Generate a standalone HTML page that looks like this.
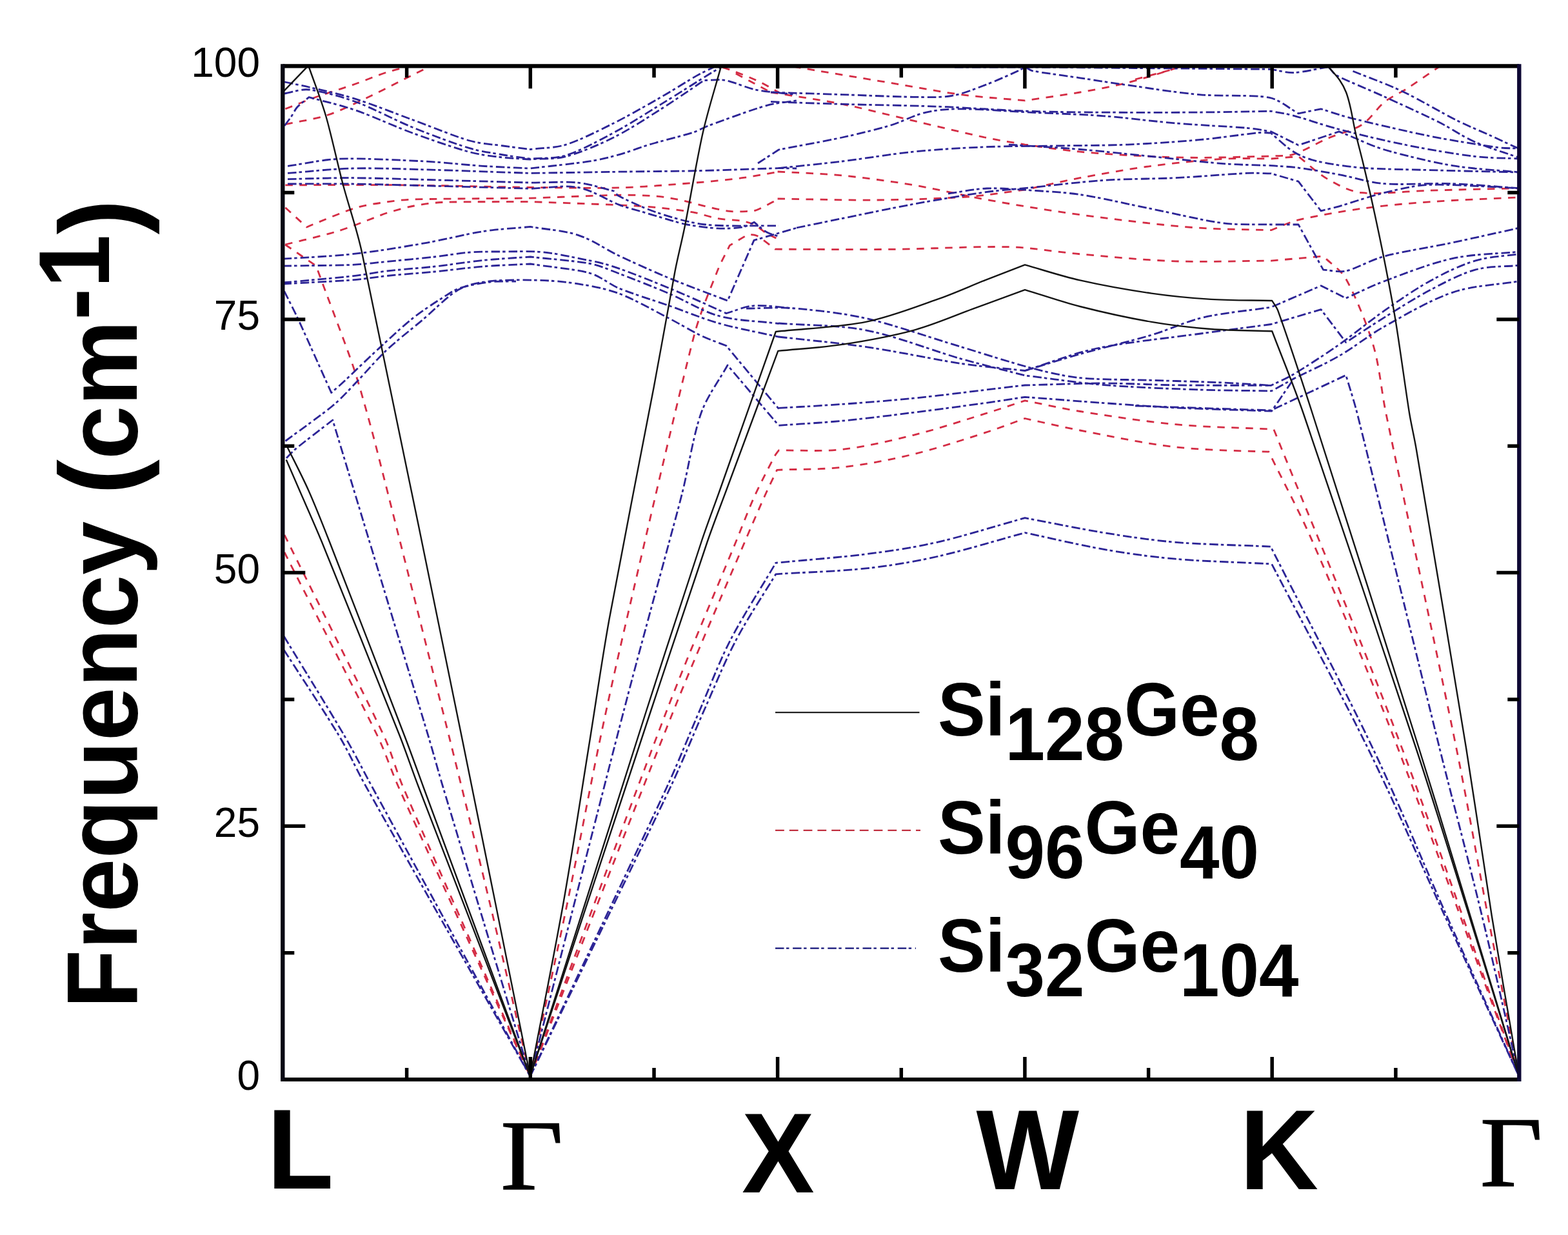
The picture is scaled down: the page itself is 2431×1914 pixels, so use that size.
<!DOCTYPE html>
<html><head><meta charset="utf-8">
<style>
html,body{margin:0;padding:0;background:#fff;}
body{width:2431px;height:1914px;overflow:hidden;}
svg{display:block;}
.sans{font-family:"Liberation Sans",Arial,sans-serif;}
.serif{font-family:"Liberation Serif","Times New Roman",serif;}
</style></head>
<body>
<svg width="2431" height="1914" viewBox="0 0 2431 1914">
<rect x="0" y="0" width="2431" height="1914" fill="#fff"/>
<clipPath id="pc"><rect x="438.3" y="102.3" width="1917.0000000000002" height="1570.7"/></clipPath>
<g id="curves" fill="none" stroke-linejoin="round" clip-path="url(#pc)">
<g stroke="#d42c44" stroke-width="2.8" stroke-dasharray="11.5 10.5">
<path d="M442 379L490 412C495.3 426.3 500.7 440.7 506 455C515.6 480.9 536.9 536.6 547.4 567.4C555.5 591.3 562.7 617.9 569 640C574.6 659.9 579.9 679.9 585 700C606.6 785 669.4 1033.7 698.4 1150C719 1232.6 739.2 1315.2 759 1398C779.6 1484.3 801 1578 822 1668"/>
<path d="M441 829C492.3 932.7 564.3 1074.8 595 1140C607.1 1165.8 613.8 1193.8 625 1220C662.8 1308 756.3 1518.7 822 1668"/>
<path d="M441 856C489 950.7 555.5 1079.3 585 1140C597.6 1165.9 606.2 1193.7 618 1220C657.5 1308 754 1518.7 822 1668"/>
<path d="M822 1668C841.3 1578 862 1484.3 879.9 1398C897 1315.5 914.2 1223 929.5 1150C942.8 1086.5 956.9 1023.2 971.6 960C996 855 1052.6 610.3 1076 520.3C1085 485.9 1103 443.3 1112.2 420C1117.6 406.4 1124.9 393.6 1131.3 380.4L1159.8 363.3C1164.2 363.9 1169 363.6 1173.1 365.2C1177.2 366.8 1180.9 370.1 1184.6 372.8C1189.4 376.3 1196 381.7 1201.7 386.2C1260.9 386.3 1320.2 387 1379.4 386.4C1439.8 385.8 1514.7 381.5 1563.9 382.7C1600.9 383.6 1637.6 390.6 1674.5 393.8C1717.5 397.5 1772.7 403.1 1822 404.8C1871.4 406.5 1921.2 404.3 1970.8 404.1L2051.6 397.1C2063.3 408.8 2078.6 417.8 2086.7 432.2C2099.6 455 2118.5 499.5 2128.8 534.1C2139.1 568.5 2141.4 604.8 2148.7 640C2170.2 744.3 2231.7 1030.2 2258 1160C2275.5 1246 2290.5 1334.1 2306.7 1418.8C2322.6 1501.9 2338.9 1584.9 2355 1668"/>
<path d="M822 1668C892.7 1478.7 981.1 1238 1034.2 1100C1067.9 1012.6 1118.3 895 1140.8 840C1150.4 816.7 1159.4 792.2 1169.4 770C1179.1 748.6 1194.7 719 1201 707C1202.7 703.8 1205.2 701 1207.3 698C1240.1 697.5 1273.1 700.2 1305.7 696.5C1340.5 692.5 1379.8 683.4 1416.3 674.3C1453.2 665.1 1498.2 650.1 1527 641.2C1547.8 634.8 1568.3 627.7 1589 620.9C1617.5 626.4 1645.8 633 1674.5 637.5C1713.3 643.6 1772.8 653.1 1822 657.7C1871 662.3 1920.4 662.6 1969.6 665.1L1974.8 665.3C2038.6 823.5 2105.7 980.5 2166.2 1140C2229.6 1307.1 2292.1 1492 2355 1668"/>
<path d="M822 1668C896.3 1478.7 989.4 1238 1044.8 1100C1079.9 1012.7 1131.2 895 1154.6 840C1164.5 816.6 1176.7 788.6 1185 770C1191.3 756 1198.1 742.2 1204.6 728.3C1238.3 726.9 1272.2 728 1305.7 724.1C1341 720 1379.9 712.7 1416.3 703.9C1453.2 695 1498.2 679.9 1527 670.7C1547.9 664 1568.3 655.9 1589 648.5C1617.5 654.7 1645.9 661.6 1674.5 667C1713.3 674.4 1773.4 687.3 1822 692.8C1869.8 698.2 1941.8 699 1966 700.2C1966.3 700.2 1966.6 700.1 1966.9 700C1989.7 746.7 2014.4 792.4 2035.2 840C2067.3 913.3 2120.8 1039 2159.8 1140C2213.1 1278 2289.9 1492 2355 1668"/>
<path d="M442.4 168.8C458.4 162.6 474.2 156.1 490.3 150.3C507.5 144.2 527.3 138.3 545.7 131.9C564.2 125.5 585 116.6 601 111.6C614.3 107.4 628.1 104.9 641.6 101.6"/>
<path d="M442.4 192.7C464.5 187.8 487.3 185.2 508.8 178C530.9 170.6 554.9 158 575.2 148.5C593.9 139.7 617 127.6 630.5 120.8C639.1 116.5 647.7 112.2 656.3 107.9"/>
<path d="M442.4 286.8C501.4 286.8 560.4 286.2 619.4 286.8C682.7 287.4 754.7 289.3 822.3 290.5C868.2 290.6 918 292.1 959.9 290.9C998 289.8 1042.1 286 1073.9 283.5C1099.5 281.5 1128.3 278.6 1150.6 275.7C1169.6 273.2 1188.5 269.4 1207.4 266.2"/>
<path d="M988.3 100.5C1012.9 101.1 1040.6 101.8 1062.1 102.4C1080.5 102.9 1105.1 103 1117.4 104.2C1123.8 104.8 1129.8 107.6 1135.8 109.8C1145 113.2 1160.8 119 1172.7 124.5C1184.6 130 1195.8 136.8 1207.4 143"/>
<path d="M1205.6 266C1239 268 1272.4 268.7 1305.7 272C1340.8 275.5 1379.6 280.7 1416.3 286.8C1453.2 293 1490.1 302.2 1527 309C1563.8 315.7 1600.7 321.9 1637.6 327.4C1674.4 332.9 1711.4 337.8 1748.3 342.1C1785.1 346.4 1822 350.8 1859 353.2C1896.1 355.6 1933.5 355.5 1970.8 356.7C1984.9 351.4 1998.4 344.4 2013 340.9C2036.4 335.3 2078.3 327.8 2111.3 323.3C2145.2 318.6 2181.5 315.3 2216.7 312.8C2257.4 309.9 2309.2 308.1 2355.4 305.8"/>
<path d="M1205.6 308C1257.1 308.7 1310.9 310.5 1360 310C1406.7 309.5 1461.8 307.6 1500 305C1529.8 302.9 1559.3 297.8 1589 294.2C1617.5 288 1645.8 281.1 1674.5 275.7C1707.2 269.6 1748.3 262.2 1785.2 257.3C1822 252.4 1865.1 248.1 1896 246.2C1920.9 244.7 1945.9 246.1 1970.8 246L2013 242.5C2028.2 254.2 2042.2 268.3 2058.6 277.7C2075 287.1 2092.5 296.6 2111.3 298.7C2137.7 301.6 2181.6 296.2 2216.7 295.2C2257.4 294 2309.2 292.9 2355.4 291.7"/>
<path d="M1195 143C1231.9 149.1 1269 154.1 1305.7 161.4C1342.6 168.8 1379.4 178.6 1416.3 187.2C1453.2 195.8 1498.2 206.8 1527 213C1547.5 217.4 1568.3 220.4 1589 224.1C1617.5 227.8 1645.9 232.5 1674.5 235.2C1707.2 238.3 1753.4 241 1785.2 242.5C1811.9 243.8 1838.7 244.4 1865.4 244.3C1896.3 244.2 1935.7 242.8 1970.8 242C1982.5 241 1994.8 242.5 2006 239C2020.6 234.4 2041 222 2058.6 214.4C2076 206.9 2096.7 202.8 2111.3 193.4C2125.3 184.5 2134.7 167.6 2146.4 158.2C2157 149.7 2170 144.6 2181.5 137.2C2195.6 128.1 2214.3 114.9 2230.7 103.8"/>
<path d="M1140.8 114C1150.3 119.1 1160.3 124.5 1169.3 129.3C1177.9 133.9 1186.4 138.4 1195 143"/>
<path d="M1230 103C1242.9 105.3 1255.9 107.6 1268.8 109.8C1293.7 114 1342.5 122.1 1379.4 128.2C1416.3 134.3 1455.1 142 1490 146.6C1522.9 150.9 1556 152.8 1589 155.9C1617.5 151.6 1648 147.6 1674.5 143C1699.2 138.7 1724 134.3 1748.3 128.2C1772.9 122 1808.4 110.2 1822 106C1824.7 105.2 1827.3 104 1830 103"/>
<path d="M1760 123C1777.6 118.3 1801 112.3 1812.7 109C1818.6 107.3 1824.2 105 1830 103"/>
<path d="M442.4 321.8L475.6 352C479.6 350.3 483.6 348.4 487.7 346.8C500.4 341.8 533.4 327.6 552.1 322C567.7 317.3 585.4 315.2 600 313C613.3 311 626.6 309.4 640 309C677 308 761.5 307.7 822.3 307.1C868.2 305.5 927.4 302.8 959.9 302.3C979 302 1001.2 302.8 1017.1 304.1C1029.9 305.1 1042.5 307.4 1055.1 310C1067.8 312.6 1080.4 316.7 1093.1 319.6C1105.8 322.5 1120.3 326.1 1131.4 327.4C1140.8 328.5 1152.8 327.7 1159.8 327.4C1164.3 327.2 1168.9 327.2 1173.1 325.5C1181 322.3 1196 314 1207.4 308.2"/>
<path d="M442.4 379C469.2 372.2 499.6 365.5 522.8 358.5C542.7 352.5 568.5 341.8 581.4 337C587.6 334.7 593.6 331.9 600 330C610.1 327 627.8 321.7 642 319C656.5 316.2 671.9 314 687 313.5C717 312.4 777.2 312.9 822.3 312.6C868.2 314.3 927.4 316.3 959.9 317.8C979 318.7 998.1 319.7 1017.1 321.5C1036.2 323.4 1058.4 326.1 1074.2 328.9C1087.1 331.2 1099.5 336.2 1112.2 338.5C1124.7 340.7 1140.7 340.9 1150.2 342.5C1156.6 343.6 1163.1 345.1 1169 348C1175.3 351.1 1182.5 357.8 1188.2 361.3C1193.1 364.3 1198.3 366.5 1203.4 369.1"/>
</g>
<g stroke="#2c2496" stroke-width="2.8" stroke-dasharray="13.5 4 4.5 5">
<path d="M444 710C449.1 704.9 453.8 699.4 459.4 694.8C471.4 685 497 665.6 515.8 651C565.1 814 635.3 1045.2 663.8 1140C671.8 1166.6 678.9 1193.4 686.9 1220C713.3 1308 777 1518.7 822 1668"/>
<path d="M440.3 986.3C471.5 1037.5 511 1101 533.8 1140C549.1 1166.2 562.7 1193.4 577.2 1220C625.2 1308 740.4 1518.7 822 1668"/>
<path d="M440.3 1007.4C468.7 1051.6 504.2 1104.6 525.5 1140C541 1165.9 553.2 1193.7 568 1220C617.4 1308 737.3 1518.7 822 1668"/>
<path d="M822 1668C870.5 1478.7 931.6 1238 967.5 1100C990.1 1013.1 1022.3 896.7 1037.5 840C1044.6 813.4 1052.1 786.8 1058.7 760C1066.9 726.8 1075.4 672.8 1086.9 640.5C1096.4 613.8 1114.3 590.8 1128 566L1207.3 659.4C1240.1 657 1273 655.3 1305.7 652.2C1340.5 648.9 1379.5 643.9 1416.3 639.3C1453.2 634.7 1498.2 628.6 1527 624.6C1547.7 621.7 1568.3 618.4 1589 615.3C1629.8 618.4 1672.6 621.8 1711.4 624.6C1748.3 627.2 1785.1 630.1 1822 631.9C1865.3 634 1921.7 635.4 1971.5 637.2L2006 586.8C2029.3 575.1 2053.4 564.7 2076 551.7C2099.4 538.2 2122 519.7 2146.4 506C2175.7 489.6 2217 465 2251.8 453.3C2285 442.1 2320.9 441.6 2355.4 435.7"/>
<path d="M822 1668C892.6 1518.7 989.9 1314.7 1033.8 1220C1052.1 1180.5 1068.7 1138 1085.2 1100C1100.9 1063.8 1114.5 1026.7 1132.6 991.7C1152.2 953.8 1179.4 912.1 1202.8 872.3C1249.4 867.8 1300.8 864.1 1342.5 858.8C1379.6 854.1 1416.7 848.6 1453.2 840.3C1494.3 830.9 1543.7 815.2 1589 802.7C1629.8 810.3 1672.6 819.3 1711.4 825.6C1748.1 831.5 1784.9 837.2 1822 840.3C1865.1 843.9 1920.7 844.8 1970 847.1C2022.8 951.4 2083.1 1064.7 2128.5 1160C2169.1 1245.1 2204.9 1334.1 2242.7 1418.8C2279.8 1502 2317.6 1584.9 2355 1668"/>
<path d="M822 1668C894.5 1518.7 994.4 1314.7 1039.4 1220C1058.1 1180.6 1075 1138 1092 1100C1108.2 1063.8 1122.8 1026.7 1141.3 991.7C1159.8 956.7 1182.3 923.8 1202.8 889.8C1249.4 886.8 1300.8 885.4 1342.5 880.9C1379.7 876.8 1416.7 870.7 1453.2 862.5C1494.3 853.3 1543.7 837.9 1589 825.6C1629.8 834.2 1672.6 844.6 1711.4 851.4C1748 857.8 1784.9 863 1822 866.2C1865.4 870 1921.7 871.4 1971.6 874C2021.4 969.3 2076.2 1069.2 2120.9 1160C2162.8 1245.2 2200.7 1334.1 2239.7 1418.8C2278 1501.9 2316.6 1584.9 2355 1668"/>
<path d="M1207.3 632.4C1240.1 630.4 1272.9 628.8 1305.7 626.4C1340.5 623.9 1379.5 620.9 1416.3 617.2C1453.2 613.5 1498.2 607.7 1527 604.3C1547.7 601.9 1568.3 599.4 1589 597C1629.8 596 1672.6 594 1711.4 594C1748.3 594 1785.1 596.4 1822 596.9C1865.2 597.4 1921.2 597.2 1970.8 597.3C1982.5 591.5 1994.8 586.5 2006 579.8C2023.5 569.3 2053.2 550.1 2076 534.1C2099.4 517.7 2123 497.8 2146.4 481.4C2169.3 465.4 2193.3 448.6 2216.7 435.7C2239.2 423.3 2263.9 411.1 2287 404.1C2309.1 397.4 2332.6 397.1 2355.4 393.6"/>
<path d="M1760 629L1970.8 636L2086.7 581.5C2092.5 601 2099 620.3 2104 640C2128.2 736.4 2199.8 1030.2 2232 1160C2253.5 1246.4 2277 1334.1 2297.5 1418.8C2317.6 1501.7 2335.8 1584.9 2355 1668"/>
<path d="M446.1 257.3C473.1 253.6 499.9 247.2 527.2 246.2C562.2 245 619.4 248.1 656.3 249.9C687.1 251.4 720.8 255.5 748.5 257.3C773.1 258.9 797.7 259.8 822.3 261C853 257.3 891.6 253.5 914.5 249.9C929.8 247.5 945 243.8 959.9 239.6C975.3 235.3 991 228.8 1006.7 224.1C1025.8 218.4 1058.8 210.2 1074.2 205.3C1082.8 202.6 1090.5 197.7 1099 194.6C1118 187.6 1165.5 170 1188.2 163.6C1203.4 159.3 1219.5 158.5 1235.1 155.9"/>
<path d="M446.1 268.4C479.3 265.9 512.4 261.9 545.7 261C580.7 260.1 619.4 261.8 656.3 262.8C702.4 264 767 266.5 822.3 268.4C868.2 267.7 916.9 266.8 959.9 266.2C1000.1 265.6 1040.3 265.6 1080.5 264.7C1121.7 263.8 1164.8 262 1207 260.6L1235.1 261"/>
<path d="M446.1 277.6C479.3 277 512.5 275.5 545.7 275.7C586.9 276 647.1 278.2 693.2 279.4C736.2 280.6 779.3 281.9 822.3 283.1C846.9 283.1 874.6 281 896.1 283.1C914.9 285 933 291.7 951.4 296C954.2 298.7 956.4 302.3 959.9 304.1C970.9 309.6 997.4 322.4 1017.1 328.9C1039.3 336.2 1067.1 345.1 1093.1 348C1124.8 351.5 1169 349.3 1207 349.9"/>
<path d="M446.1 285C479.3 285 512.5 284.5 545.7 285C586.9 285.6 647.1 287.5 693.2 288.7C736.2 289.8 779.3 291.1 822.3 292.3C846.9 291.7 873.2 286.3 896.1 290.5C918.8 294.6 942.9 311 959.9 317.4C972.3 322.1 985.2 325.1 997.9 328.9C1010.6 332.7 1025.1 337.1 1036.3 340.3C1045.8 343 1055.3 346.3 1065 348C1077.7 350.3 1097.9 353.2 1112.2 353.9C1125 354.5 1141.1 353.7 1150.6 352.1C1157.3 351 1163.1 347 1169.4 344.4C1175.8 349.5 1182.3 356.2 1188.6 359.8C1194.2 363 1200.9 364 1207 366.1"/>
<path d="M438.7 401.2C474.4 398.7 510.2 397.7 545.7 393.8C582 389.8 622.5 383.1 656.3 377.2C687.2 371.9 720.8 363 748.5 358.7C772.9 354.9 797.7 353.8 822.3 351.4C846.9 355.7 873.2 356.8 896.1 364.3C918.7 371.7 938.4 386.2 959.9 396.4C983.5 407.5 1011.3 420.2 1037.4 431C1065.4 442.6 1097.9 454.4 1128.1 466.1L1169 372.4L1235.1 353.2"/>
<path d="M441 127C453.7 129.7 466.4 132 479 135C497.5 139.4 528.1 146 552 153.6C578.8 162.1 610.7 175.1 640 185.8C669.3 196.5 704.7 211.3 728 218C744.9 222.8 764.3 223.8 780 226C794.1 228 808.2 229.7 822.3 231.5C840.7 229 859.9 229.7 877.6 224.1C899.1 217.3 927.3 203 951.4 190.9C976 178.6 1003.7 162.6 1025.2 150.3C1043.9 139.6 1067 124.8 1080.5 117.1C1088.9 112.3 1097.7 108.5 1106.3 104.2"/>
<path d="M441 145C453.7 143 466.3 137.5 479 139C497.5 141.2 528.4 149.4 552 158C578.8 167.8 610.7 185.6 640 197.5C668.9 209.3 704.7 222.6 728 229.7C744.9 234.8 764.3 237.2 780 240C794 242.5 808.2 244.1 822.3 246.2C840.7 244.4 859.9 246.2 877.6 240.7C899.1 233.9 927.4 218.6 951.4 205.7C976 192.5 1000.7 176.4 1025.2 161.4C1049.8 146.3 1083.6 124.8 1099 115.3C1105.1 111.5 1111.3 107.9 1117.4 104.2"/>
<path d="M441 195C444.7 190 448.8 184.7 452 180C454.9 175.8 457 170.7 460 167C462.8 163.5 466.8 160.7 470 158C472.9 155.5 476 153.1 479 150.6C503.3 157.4 528.1 162.8 552 171.1C578.8 180.4 610.7 195.6 640 206.3C669 216.9 704.7 229.3 728 235.6C745 240.2 764.3 242.1 780 244C794 245.7 808.2 246 822.3 247C840.7 245.5 859.7 247.2 877.6 242.5C899.1 236.8 927.7 224.8 951.4 213C976 200.7 1001.8 183.6 1025.2 168.8C1047.7 154.6 1069.5 139.3 1091.6 124.5C1102.7 124.5 1113.9 122.5 1124.8 124.5C1138.3 127 1156.3 136 1172.7 139.3C1191.1 143 1214.2 144.2 1235 146.6"/>
<path d="M442.5 683.5C466.9 665.3 497.3 644.1 515.6 629C528.8 618.1 540.2 605.1 552.1 592.8C566 578.5 582.4 558.6 599 543C616.1 526.9 636.1 511.8 654.6 496.2C673.1 480.6 693.2 459.3 710.3 449.3C724.3 441.1 741 438 757.1 436.1C777.9 433.6 811.8 433.7 835 434.3C855.4 434.9 875.9 436.6 896.1 439.9C916.9 443.3 939.5 447.2 960 455C983.5 463.9 1016.1 482.5 1037.3 493.4C1054.1 502 1072.3 513.2 1087.1 520.3C1099.7 526.3 1113 530.6 1125.9 535.8L1207.4 633.6"/>
<path d="M440.6 451.2C447.5 464.9 454.7 478.5 461.2 492.4C473.4 518.6 496.2 569.9 513.7 608.6C519.7 603.3 525.8 598.2 531.6 592.8C543.9 581.4 569.2 556.7 587.3 540.1C604.6 524.2 623.4 506.4 640 493.2C654.8 481.4 674.6 468.8 686.8 461C695.3 455.6 703.6 449.5 713.2 446.4C725.4 442.4 745.5 438.7 760 437C773.2 435.4 786.7 436.3 800 436"/>
<path d="M1480 104L1589 104C1646 104.5 1703 105 1760 105.5C1823.6 106 1900.5 106.7 1970.8 107.3C1982.5 109.1 1994.1 113.1 2006 112.6C2020.6 112 2041.1 106.7 2058.6 103.8"/>
<path d="M1195 143C1231.9 144.2 1268.8 145.4 1305.7 146.6C1342.6 147.8 1388 150 1416.3 150.3C1436 150.5 1456.8 151.6 1475.3 148.5C1493.2 145.5 1510.1 138.2 1527 131.9C1544.2 125.5 1568.1 114.6 1578.6 109.8C1582.6 108 1586.2 105.3 1590 103"/>
<path d="M1590 104C1593.6 105.9 1596.7 109 1600.7 109.8C1614.8 112.6 1649.9 117.1 1674.5 120.8C1699.1 124.5 1723.7 128.5 1748.3 131.9C1779 136.2 1822.5 143.4 1859 146.6C1895 149.8 1941.6 146.3 1967.3 151.2C1984.3 154.4 1997.8 167.6 2013 175.8L2048 168.8C2063.2 173.5 2078.2 178.9 2093.7 182.8C2121.8 189.8 2178.6 203.3 2216.7 210.9C2251.6 217.9 2298.9 225.3 2322 228.5C2333 230 2344.3 229.6 2355.4 230.2"/>
<path d="M1195 157.7C1231.9 158.9 1268.8 160.3 1305.7 161.4C1348.7 162.6 1404.1 163.3 1453.2 165.1C1502.4 166.9 1551.5 171 1600.7 172.5C1649.9 174 1704.2 174.1 1748.3 174.3C1787.3 174.5 1828.3 174.3 1865.4 174C1900.5 173.7 1935.7 172.9 1970.8 172.3C1982.5 174.6 1994.4 176.2 2006 179.3C2023.5 184 2052.4 194.3 2076 200.4C2105.2 208 2146.3 218 2181.5 225C2216.5 232 2258 239 2287 242.5C2309.7 245.2 2332.6 244.8 2355.4 246"/>
<path d="M1175 253L1207.4 232C1240.2 225.7 1277 219.2 1305.7 213C1330.4 207.6 1357.9 201 1379.4 194.6C1398.2 189 1416.4 178.6 1434.8 174.3C1452.8 170.1 1471.5 168.8 1490 168.8C1517.7 168.8 1563.8 172.5 1600.7 174.3C1637.6 176.1 1674.6 177 1711.4 179.8C1748.3 182.6 1785.1 187.8 1822 190.9C1858.9 194 1907.9 196.1 1932.7 198.3C1945.5 199.4 1958.1 202 1970.8 203.9L2013 225L2076 203.9C2081.9 206.3 2087.8 208.6 2093.7 211C2105.4 215.7 2128.2 226.8 2146.4 232C2172.8 239.6 2217 250.8 2251.8 256.6C2286 262.3 2320.9 263.5 2355.4 267"/>
<path d="M1207 260.6C1239.9 257.1 1272.9 254 1305.7 250C1340.6 245.8 1379.4 238.9 1416.3 235.2C1453.1 231.5 1490.1 229.3 1527 227.8C1563.8 226.3 1600.7 226.6 1637.6 226C1674.5 225.4 1711.4 225.6 1748.3 224.1C1785.2 222.5 1825.2 219.8 1859 216.7C1889.8 213.9 1932.7 207.5 1951.2 205.7C1957.4 205.1 1963.7 205.9 1970 206C1982 215.8 1994.2 228.2 2006 235.5C2016.7 242.1 2028.8 246.7 2041 249.6C2058.6 253.7 2087.7 258.2 2111.3 260.1C2140.6 262.4 2181.6 262.6 2216.7 263.6C2257.4 264.8 2309.2 265.9 2355.4 267"/>
<path d="M1563.9 224.1C1600.8 226.6 1637.7 228.4 1674.5 231.5C1711.4 234.6 1748.3 238.8 1785.2 242.5C1822.1 246.2 1865.1 251.2 1896 253.6C1920.9 255.5 1945.9 255.6 1970.8 256.6C1984.9 257.8 1999 258.2 2013 260.1C2030.5 262.4 2055.1 266.7 2076 270.6C2098.2 274.7 2122.5 282.8 2146.4 284.7C2175.7 287 2217 283.5 2251.8 284.7C2286.4 285.9 2320.9 289.4 2355.4 291.7"/>
<path d="M1470 300C1490 297.3 1510.2 293 1530 292C1549.7 291 1569.3 293.5 1589 294.2C1617.5 296.7 1646.2 297.3 1674.5 301.6C1707.2 306.5 1748.3 316.3 1785.2 323.7C1822.1 331.1 1865.1 341.8 1896 345.8C1920.7 349 1945.9 347.3 1970.8 348L2013 348L2051.6 418.2C2063.3 418.8 2075.3 422.5 2086.7 420C2102.5 416.5 2125.8 402.6 2146.4 397.1C2173.9 389.8 2217 383.3 2251.8 376C2286.4 368.7 2320.9 360.8 2355.4 353.2"/>
<path d="M1235 353C1258.6 348.2 1282.1 343.3 1305.7 338.5C1335.9 332.4 1379.4 323.1 1416.3 316.3C1453.1 309.6 1496.3 302.2 1527 297.9C1551.5 294.5 1576.1 293 1600.7 290.5C1631.4 287.4 1674.5 281.9 1711.4 279.4C1748.2 276.9 1785.2 277.5 1822 275.7C1858.9 273.9 1907.9 269.5 1932.7 268.4C1945.4 267.8 1958.1 268.7 1970.8 268.9L2013 281.2L2048 326.8C2057.3 324.5 2066.7 322.4 2076 319.8C2092.4 315.1 2123 304.3 2146.4 298.7C2169.5 293.2 2192.9 287.2 2216.7 286.4C2251.5 285.2 2309.2 289.9 2355.4 291.7"/>
<path d="M1157 478C1181.5 477.9 1206.1 475.8 1230.5 477.8C1261.4 480.4 1305.8 484.9 1342.5 493.4C1385.8 503.4 1447 524.7 1490 537.6C1526.9 548.7 1570 562.8 1600.7 570.8C1625 577.1 1649.5 583.1 1674.5 585.6C1705.2 588.7 1748.3 588.1 1785.2 589.3C1822.1 590.5 1865.1 591.7 1896 593C1921 594.1 1945.9 595.9 1970.8 597.3"/>
<path d="M1207 501C1252.2 504.6 1298 503.1 1342.5 511.8C1389.7 521 1448.9 544.4 1490 556.1C1522.8 565.4 1556 573.3 1589 581.9C1629.8 586.8 1670.4 593.2 1711.4 596.6C1756.4 600.3 1815.7 602.5 1859 604C1896.5 605.3 1934 605.3 1971.5 605.9L2006 586.8"/>
<path d="M1207 522C1252.2 527.2 1297.5 531 1342.5 537.6C1389.7 544.5 1448.9 557.2 1490 563.4C1522.8 568.3 1556 570.8 1589 574.5C1617.5 565.9 1645.8 556.8 1674.5 548.7C1707.2 539.5 1753.4 528.7 1785.2 519.2C1812.3 511.2 1837.9 498.4 1865.4 492C1896.3 484.8 1935.7 481.4 1970.8 476.1L2048 442.8L2086.7 462.1C2106.6 453.3 2126 443.3 2146.4 435.7C2173.9 425.4 2217 408.2 2251.8 400.6C2285.7 393.2 2320.9 393.6 2355.4 390.1"/>
<path d="M1589 574.5C1626 563 1662.1 548 1700 540C1746.1 530.3 1820.3 522.8 1865.4 516.5C1900.5 511.6 1935.7 507.2 1970.8 502.5L2048 479.6L2086.7 530.6C2106.6 517.7 2126.3 504.4 2146.4 491.9C2168.1 478.4 2193.3 462.1 2216.7 449.8C2239.5 437.9 2263.9 424.6 2287 418.2C2309.1 412.1 2332.6 413.5 2355.4 411.2"/>
<path d="M2097.5 110.2C2123.3 120.8 2149.8 130 2175 142C2201.8 154.7 2234.9 174.8 2258 186.3C2276.1 195.3 2297.1 203.8 2313.3 211.2C2327.2 217.6 2341.1 224.1 2355 230.5"/>
<path d="M2060 104C2064.2 108.4 2067.2 114.3 2072.6 117.1C2087.2 124.8 2122.5 139 2147.3 150.3C2173.6 162.3 2207.2 177.5 2230.3 189C2249.1 198.4 2266.4 211 2285.6 219.5C2306.4 228.7 2331.9 236.1 2355 244.4"/>
<path d="M438.7 412.2C474.4 411.6 518.8 411.5 545.7 410.4C563.9 409.6 581.9 407.1 600 405.4C621.4 403.3 652.5 400.4 674 398C692.4 395.9 710.7 392.3 729 391C747.3 389.7 765.7 390.1 784 390C802.5 389.9 821.5 388.9 840 390.6C858.5 392.3 876.8 396.3 895 400C913.3 403.7 932.1 406.9 950 412.8C974.8 421 1014.3 437 1043.6 449.1C1071.3 460.6 1098.5 473.4 1125.9 485.6C1140.2 481.7 1153.9 474.9 1168.7 473.8C1186.2 472.5 1210 476.5 1230.6 477.9"/>
<path d="M438.7 438C474.4 434.7 518.8 431 545.7 428C563.9 426 581.8 422.1 600 420C621.4 417.5 649.4 415.7 674 413C698.8 410.2 723.8 406 748.5 403.5C773 401 797.7 399.8 822.3 398C853 401.5 891.6 404.2 914.5 408.5C930.2 411.5 944.9 418.3 959.9 424C980.4 431.8 1011.8 444.1 1037.4 455C1063.2 465.9 1087.5 482.2 1114.8 489.7C1143.1 497.4 1176.5 497.6 1207.4 501.5"/>
<path d="M438.7 440C474.4 438 518.8 436.1 545.7 434C563.9 432.6 581.9 429.3 600 427.5C621.4 425.3 649.4 423.4 674 421C698.8 418.6 723.8 415 748.5 413C773.1 411 797.7 410.3 822.3 409C853 413.8 891.6 417 914.5 423.3C930.9 427.8 944.1 440.4 959.9 446.9C980.4 455.3 1011.6 464.8 1037.4 473.8C1063.2 482.8 1088.5 493.6 1114.8 501.1C1143.1 509.2 1176.5 515.1 1207.4 522.1"/>
</g>
<g stroke="#151515" stroke-width="2.4">
<path d="M439.4 141.9L476 103.8"/>
<path d="M479 104C487.8 129.3 497.8 154.3 505.3 180C514.1 210.2 522.4 250.3 531.6 285.3C540.9 320.4 553.3 355.1 561 390.8C592 534.9 674 937.1 717.5 1150C752.8 1322.6 787.2 1495.3 822 1668"/>
<path d="M443.8 689.5C455.3 713 467.6 736.1 478.3 760C489.5 785.1 500.5 813.2 511 840C535.8 903.3 602.8 1076.7 627 1140C637.2 1166.5 646.7 1193.3 656.5 1220C689 1308 766.8 1518.7 822 1668"/>
<path d="M443.8 712.4C450.7 728.3 457.5 744.1 464.4 760C473.6 781.3 488 813.1 499 840C524.9 903.3 594.6 1076.7 619.6 1140C630 1166.4 638.9 1193.5 649.1 1220C682.8 1308 764.4 1518.7 822 1668"/>
<path d="M822 1668C839.2 1578 858.4 1484.3 873.7 1398C888.3 1315.5 902.2 1223 914 1150C924.2 1086.7 933.1 1023.1 944.5 960C961.1 868.3 996.7 690 1013.7 600C1025 540.1 1038.5 461.8 1046.6 420C1051.2 396.4 1057.3 373.1 1062 349.5C1069.2 313.8 1080.4 246.8 1089.7 205.7C1097.6 170.9 1108.6 137 1118 102.6"/>
<path d="M822 1668C882.2 1478.7 958.4 1238 1002.6 1100C1030.4 1013.2 1068.4 896.7 1087.3 840C1096.3 813.1 1106.4 786.7 1115.9 760C1135.2 705.7 1173.8 596 1202.8 514C1249.4 509 1300.8 507.2 1342.5 498.9C1380.4 491.3 1422.5 474.6 1453.2 463.9C1478.2 455.2 1504.4 443.3 1527 434.4C1547.6 426.3 1568.3 418.4 1589 410.4C1617.5 418.4 1645.6 427.9 1674.5 434.4C1707.2 441.8 1751.4 449.7 1785.2 454.6C1815.8 459 1846.6 462 1877.4 463.9C1908.6 465.8 1940.6 465.3 1972.2 466C1975.2 471.1 1979.3 475.8 1981.3 481.4C1991.7 510.4 2017.4 586.9 2034.5 640C2070.9 753.1 2159.2 1030.2 2200 1160C2227.1 1246.1 2253.5 1334.1 2279.3 1418.8C2304.6 1501.8 2329.8 1584.9 2355 1668"/>
<path d="M822 1668C884.5 1478.7 963.9 1238 1009.6 1100C1038.4 1013.3 1077.1 896.7 1096.5 840C1105.7 813.1 1116.1 786.6 1126 760C1144.3 710.6 1179.5 615.9 1206.3 543.9C1239.4 540.6 1272.8 538.9 1305.7 533.9C1340.7 528.5 1382.5 521 1416.3 511.8C1447.8 503.2 1479.7 489.1 1508.5 478.6C1535.4 468.8 1562.2 458.9 1589 449.1C1617.5 457.7 1645.6 467.7 1674.5 475C1707.2 483.3 1751.4 493.1 1785.2 498.9C1815.7 504.2 1846.5 507.6 1877.4 510C1908.6 512.4 1940.6 512.2 1972.2 513.3C1988.3 555.5 2005.7 597.3 2020.5 640C2057.7 747.8 2152.6 1030.2 2195.5 1160C2223.9 1245.9 2251.1 1334.1 2277.7 1418.8C2303.8 1501.8 2329.2 1584.9 2355 1668"/>
<path d="M2060 104C2065.7 110.8 2072.5 117.8 2077 124.3C2081.1 130.2 2084.5 136.6 2087.1 143.3C2089.9 150.6 2092.1 159.7 2094 168C2096.4 178.5 2098.8 193.5 2101.7 206.2C2104.9 220.4 2109.7 237.4 2113.4 253.1C2117.8 271.4 2123.4 295.2 2128 316.3C2133.5 341.5 2140.6 374.8 2146.4 404.1C2152.4 434.6 2158.8 467.2 2164 499C2170.4 538.3 2179.7 607.3 2185 640C2188 658.4 2192.5 676.6 2195.6 695C2210.3 781.7 2253.7 1039.4 2273.2 1160C2287.1 1246.1 2299.1 1334.1 2312.7 1418.8C2326.1 1502 2340.9 1584.9 2355 1668"/>
</g>
</g><!--endcurves-->
<!-- frame -->
<path d="M438.3 102.3H2355.3M438.3 1673H2355.3" stroke="#000" stroke-width="6.2" fill="none"/>
<path d="M438.3 99.2V1676.1" stroke="#0a0a14" stroke-width="6.4" fill="none"/>
<path d="M2355.3 99.2V1676.1" stroke="#0e0834" stroke-width="6.4" fill="none"/>
<g stroke="#000" stroke-width="5.5">
<path d="M822.3 1673V1638M822.3 102.3V137.3 M1205.6 1673V1638M1205.6 102.3V137.3 M1588.9 1673V1638M1588.9 102.3V137.3 M1972.2 1673V1638M1972.2 102.3V137.3 M630.6 1673V1655M630.6 102.3V120.3 M1014 1673V1655M1014 102.3V120.3 M1397.3 1673V1655M1397.3 102.3V120.3 M1780.6 1673V1655M1780.6 102.3V120.3 M2163.9 1673V1655M2163.9 102.3V120.3 M438.3 1280.3H473.3M2355.3 1280.3H2320.3 M438.3 887.6H473.3M2355.3 887.6H2320.3 M438.3 495.0H473.3M2355.3 495.0H2320.3 M438.3 1476.7H456.3M2355.3 1476.7H2337.3 M438.3 1084.0H456.3M2355.3 1084.0H2337.3 M438.3 691.3H456.3M2355.3 691.3H2337.3 M438.3 298.6H456.3M2355.3 298.6H2337.3"/>
</g>
<!-- y tick labels -->
<g class="sans" font-size="64" text-anchor="end" fill="#000">
<text x="403" y="118.5">100</text>
<text x="403" y="511.3">75</text>
<text x="403" y="904">50</text>
<text x="403" y="1296.5">25</text>
<text x="403" y="1688.5">0</text>
</g>
<!-- x labels -->
<g class="sans" font-size="177" font-weight="bold" fill="#000">
<text transform="translate(414,1842.2) scale(0.955,1)">L</text>
<text transform="translate(1150,1848) scale(0.955,1)">X</text>
<text transform="translate(1513.5,1843.3) scale(0.955,1)">W</text>
<text transform="translate(1922,1842.8) scale(0.955,1)">K</text>
</g>
<g class="serif" font-size="154" fill="#000" stroke="#000" stroke-width="1.6">
<text transform="translate(776.2,1843.4) scale(1.085,1)">Γ</text>
<text transform="translate(2294.7,1838.4) scale(1.085,1)">Γ</text>
</g>
<!-- y label -->
<text class="sans" font-size="156" font-weight="bold" fill="#000" transform="translate(212,1563) rotate(-90) scale(0.957,1)">Frequency <tspan font-size="171">(</tspan>cm<tspan dy="-43.5">-1</tspan><tspan dy="43.5" font-size="171">)</tspan></text>
<!-- legend -->
<g stroke-width="2.3" fill="none">
<path d="M1202 1104.2H1425.5" stroke="#222"/>
<path d="M1202 1286.8H1427" stroke="#c03040" stroke-dasharray="13.8 8"/>
<path d="M1202 1469.6H1420" stroke="#14147a" stroke-dasharray="13.5 3.5 4.4 5.7"/>
</g>
<g class="sans" font-size="117" font-weight="bold" fill="#000">
<text transform="translate(1454,1139.5) scale(0.945,1)">Si<tspan dy="38.5">128</tspan><tspan dy="-38.5">Ge</tspan><tspan dy="38.5">8</tspan></text>
<text transform="translate(1454,1322.5) scale(0.945,1)">Si<tspan dy="38.5">96</tspan><tspan dy="-38.5">Ge</tspan><tspan dy="38.5">40</tspan></text>
<text transform="translate(1454,1505.5) scale(0.945,1)">Si<tspan dy="38.5">32</tspan><tspan dy="-38.5">Ge</tspan><tspan dy="38.5">104</tspan></text>
</g>
</svg>
</body></html>
